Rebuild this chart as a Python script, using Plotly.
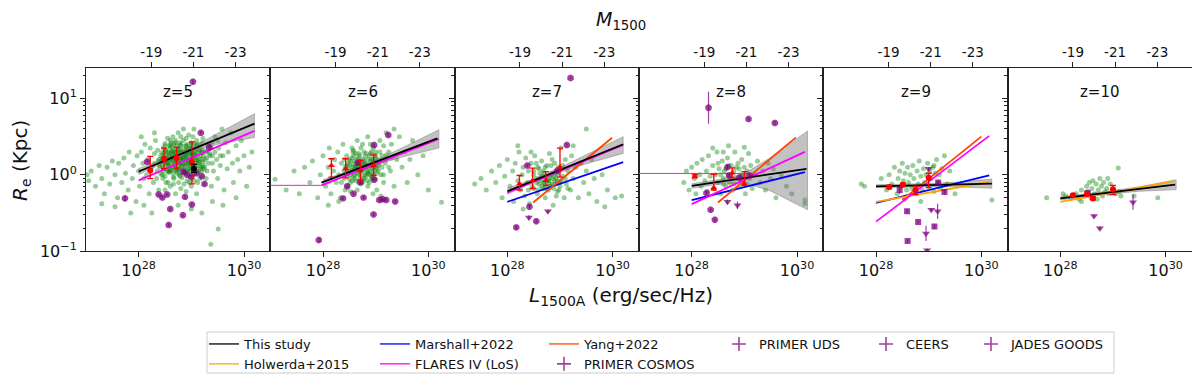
import numpy as np
import plotly.graph_objects as go

REDSHIFTS = [5, 6, 7, 8, 9, 10]
X_TICK_LOGL = [28, 30]
M_TICKS = [-19, -21, -23]

# fitted relations: (z, logL start, logR start, logL end, logR end)
STUDY = [(5, 28.0, 0.043, 30.2, 0.67), (6, 27.97, -0.104, 30.17, 0.476), (7, 28.0, -0.216, 30.2, 0.40),
         (8, 28.0, -0.147, 30.18, 0.078), (9, 28.0, -0.152, 30.2, -0.117), (10, 28.0, -0.31, 30.18, -0.13)]
FLARES = [(5, 28.0, -0.074, 30.2, 0.575), (6, 27.97, -0.139, 30.2, 0.47), (7, 28.0, -0.234, 30.2, 0.39),
          (8, 28.0, -0.385, 30.15, 0.30), (9, 28.0, -0.615, 30.15, 0.51)]
FLARES_FLAT = [(6, 27.0, -0.139, 27.97, -0.139), (8, 27.0, 0.017, 29.1, 0.017)]
MARSHALL = [(7, 28.0, -0.355, 30.2, 0.165), (8, 28.0, -0.333, 30.15, 0.035), (9, 28.0, -0.368, 30.15, -0.009)]
YANG = [(7, 28.49, -0.364, 29.99, 0.485), (8, 28.5, -0.364, 29.98, 0.49), (9, 28.5, -0.33, 30.0, 0.50)]
HOLWERDA = [(9, 28.0, -0.355, 30.15, -0.095), (10, 28.0, -0.355, 30.15, -0.087)]

# confidence band of this study (log R), one list per redshift
BAND_L = [28.0, 28.5, 29.0, 29.5, 30.2]
BAND_HI = [[0.083, 0.206, 0.358, 0.54, 0.80],
           [-0.064, 0.048, 0.19, 0.352, 0.59],
           [-0.176, -0.056, 0.094, 0.264, 0.50],
           [-0.117, -0.066, 0.015, 0.226, 0.575],
           [-0.132, -0.124, -0.116, -0.098, -0.057],
           [-0.29, -0.249, -0.208, -0.157, -0.065]]
BAND_LO = [[0.003, 0.166, 0.298, 0.40, 0.49],
           [-0.144, 0.008, 0.13, 0.232, 0.35],
           [-0.256, -0.096, 0.034, 0.144, 0.28],
           [-0.177, -0.126, -0.105, -0.214, -0.46],
           [-0.172, -0.164, -0.156, -0.158, -0.177],
           [-0.33, -0.289, -0.248, -0.217, -0.195]]

# binned medians: (z, logL, logR, logR low, logR high)
BINS = [(5, 28.22, 0.056, -0.05, 0.24), (5, 28.48, 0.21, 0.08, 0.35), (5, 28.72, 0.22, 0.087, 0.36), (5, 29.01, 0.165, -0.12, 0.43),
        (6, 28.16, 0.12, -0.03, 0.21), (6, 28.43, 0.078, -0.04, 0.21), (6, 28.71, 0.056, -0.07, 0.19), (6, 28.96, 0.12, -0.01, 0.26),
        (7, 28.23, -0.117, -0.2, -0.01), (7, 28.48, -0.074, -0.18, 0.087), (7, 28.73, -0.074, -0.14, 0.04), (7, 29.0, 0.1, -0.03, 0.35),
        (8, 28.06, -0.02, -0.04, 0.0), (8, 28.42, -0.17, -0.2, 0.004), (8, 28.77, 0.022, -0.04, 0.09), (8, 29.0, -0.117, -0.14, 0.04),
        (9, 28.25, -0.16, -0.18, -0.14), (9, 28.51, -0.13, -0.15, -0.11), (9, 28.75, -0.20, -0.26, -0.15), (9, 29.0, -0.04, -0.17, 0.02),
        (10, 28.24, -0.27, -0.29, -0.25), (10, 28.51, -0.25, -0.28, -0.22), (10, 28.62, -0.31, -0.33, -0.29), (10, 29.0, -0.19, -0.26, -0.14)]
EXTRA_POINT = [(5, 29.05, 0.078, 0.03, 0.135)]

# observed galaxies: (z, logL, logR, error in dex)
PRIMER_COSMOS = [(5, 29.03, 1.22, 0.03), (5, 27.74, -0.31, 0.04), (5, 28.38, -0.26, 0.02), (5, 28.45, -0.30, 0.02),
                 (5, 28.54, -0.26, 0.02), (5, 28.6, -0.45, 0.02), (5, 28.57, -0.66, 0.02), (5, 28.84, -0.53, 0.02),
                 (5, 28.88, -0.29, 0.02), (5, 29.01, -0.39, 0.02), (5, 29.25, -0.12, 0.02), (5, 29.18, 0.55, 0.02),
                 (5, 29.34, 0.36, 0.02), (5, 28.16, 0.17, 0.02), (5, 28.85, 0.04, 0.02), (5, 28.92, 0.0, 0.02),
                 (5, 29.0, -0.03, 0.02), (5, 29.1, 0.02, 0.02), (5, 29.2, -0.02, 0.02),
                 (6, 27.92, -0.857, 0.03), (6, 28.96, -0.52, 0.02), (6, 28.38, -0.31, 0.02), (6, 28.58, -0.25, 0.02),
                 (6, 28.77, -0.30, 0.02), (6, 29.07, -0.33, 0.02), (6, 29.13, -0.32, 0.02), (6, 29.2, -0.33, 0.02),
                 (6, 29.37, -0.35, 0.02), (6, 28.46, -0.15, 0.02), (6, 28.71, -0.10, 0.02), (6, 28.66, 0.156, 0.02),
                 (6, 28.97, 0.39, 0.02), (6, 29.24, 0.52, 0.02), (6, 28.97, -0.065, 0.02)]
PRIMER_UDS = [(7, 29.2, 1.27, 0.01), (7, 28.38, 0.12, 0.02), (7, 28.95, 0.056, 0.02), (7, 29.13, 0.39, 0.02),
              (7, 28.42, -0.42, 0.02), (7, 28.55, -0.61, 0.02), (7, 28.17, -0.69, 0.03),
              (8, 29.08, 0.73, 0.02), (8, 29.58, 0.68, 0.02), (8, 28.68, 0.10, 0.03), (8, 28.28, -0.24, 0.02),
              (8, 28.36, -0.46, 0.02), (8, 28.44, -0.59, 0.02), (8, 28.71, -0.01, 0.02), (8, 28.91, -0.04, 0.02),
              (8, 29.1, -0.01, 0.02), (8, 28.32, 0.88, 0.21)]
CEERS = [(7, 28.41, -0.56, 0.03), (7, 28.77, -0.48, 0.02), (8, 28.68, -0.355, 0.03), (8, 28.87, -0.40, 0.05),
         (9, 28.95, -0.77, 0.1), (9, 29.0, 0.078, 0.02), (9, 29.05, -0.46, 0.02), (9, 29.17, -0.48, 0.1),
         (9, 28.97, -0.99, 0.02), (10, 28.64, -0.54, 0.02), (10, 28.75, -0.70, 0.02), (10, 29.38, -0.36, 0.1)]
JADES_GOODS = [(9, 28.45, -0.20, 0.05), (9, 28.59, -0.48, 0.03), (9, 28.8, -0.62, 0.02),
               (9, 28.6, -0.87, 0.02), (9, 29.11, -0.68, 0.03), (9, 29.18, -0.10, 0.02), (9, 29.3, -0.225, 0.03),
               (10, 28.52, -0.24, 0.02)]

# simulated galaxies (logL, logR) per redshift
CLOUD_Z5 = [(27.02, 0.0), (27.05, -0.08), (27.1, 0.05), (27.18, -0.15), (27.25, 0.12), (27.3, -0.05), (27.35, -0.25),
            (27.4, 0.1), (27.45, -0.12), (27.5, 0.18), (27.55, 0.0), (27.6, -0.3), (27.62, 0.15), (27.68, -0.1),
            (27.72, 0.22), (27.75, 0.02), (27.8, -0.2), (27.82, 0.3), (27.88, -0.05), (27.9, 0.12), (27.95, -0.35),
            (27.97, 0.25), (27.3, -0.38), (27.55, -0.42), (27.85, -0.5),
            (28.0, 0.05), (28.02, -0.15), (28.05, 0.3), (28.08, 0.15), (28.1, -0.05), (28.12, 0.4), (28.15, 0.0),
            (28.18, 0.2), (28.2, -0.25), (28.22, 0.35), (28.25, 0.1), (28.28, -0.1), (28.3, 0.28), (28.32, 0.45),
            (28.35, 0.05), (28.38, -0.2), (28.1, -0.4), (28.25, -0.5), (28.05, 0.5), (28.3, 0.55),
            (28.4, 0.1), (28.42, 0.25), (28.45, 0.0), (28.47, 0.35), (28.5, 0.15), (28.52, -0.1), (28.55, 0.3),
            (28.57, 0.05), (28.6, 0.2), (28.62, 0.42), (28.65, 0.1), (28.67, -0.05), (28.7, 0.25), (28.72, 0.38),
            (28.75, 0.12), (28.77, 0.0), (28.8, 0.3), (28.82, 0.18), (28.85, 0.45), (28.87, 0.05), (28.9, 0.22),
            (28.92, -0.08), (28.95, 0.35), (28.97, 0.12), (29.0, 0.28), (29.02, 0.0), (29.05, 0.4), (29.07, 0.15),
            (29.1, 0.25), (29.12, -0.1), (29.15, 0.32), (29.17, 0.08), (29.2, 0.2), (29.22, 0.48), (29.25, 0.1),
            (29.28, -0.05), (29.3, 0.3),
            (28.43, 0.18), (28.48, 0.28), (28.53, 0.08), (28.58, 0.38), (28.63, 0.22), (28.68, 0.15), (28.73, 0.05),
            (28.78, 0.42), (28.83, 0.25), (28.88, 0.1), (28.93, 0.3), (28.98, 0.2), (29.03, 0.5), (29.08, 0.05),
            (29.13, 0.18), (29.18, 0.38), (29.23, 0.25), (28.5, -0.2), (28.6, -0.15), (28.7, -0.25), (28.8, -0.18),
            (28.9, -0.22), (29.0, -0.15), (29.1, -0.25), (28.65, 0.5), (28.75, 0.55), (28.85, 0.6), (28.95, 0.52),
            (29.05, 0.6), (28.55, 0.48),
            (28.51, 0.22), (28.56, 0.14), (28.61, 0.3), (28.66, 0.02), (28.71, 0.18), (28.76, 0.28), (28.81, 0.08),
            (28.86, 0.33), (28.91, 0.15), (28.96, 0.05), (29.01, 0.2), (29.06, 0.3), (28.64, 0.36), (28.74, 0.32),
            (28.84, 0.14), (28.94, 0.26), (29.04, 0.1), (28.69, 0.08), (28.79, 0.22), (28.89, 0.38),
            (28.45, 0.12), (28.47, 0.05), (28.49, 0.2), (28.51, 0.32), (28.53, 0.16), (28.55, 0.04), (28.57, 0.25),
            (28.59, 0.12), (28.61, 0.06), (28.63, 0.3), (28.65, 0.18), (28.67, 0.4), (28.69, 0.25), (28.71, 0.1),
            (28.73, 0.2), (28.75, 0.35), (28.77, 0.08), (28.79, 0.15), (28.81, 0.3), (28.83, 0.02), (28.85, 0.22),
            (28.87, 0.16), (28.89, 0.28), (28.91, 0.06), (28.93, 0.4), (28.95, 0.18), (28.97, 0.28), (28.99, 0.1),
            (29.01, 0.35), (29.03, 0.14), (29.05, 0.22), (29.07, 0.32), (29.09, 0.12), (29.11, 0.4), (29.13, 0.28),
            (29.15, 0.15), (29.17, 0.25), (29.19, 0.05), (29.21, 0.32), (29.23, 0.12),
            (28.5, 0.38), (28.6, 0.45), (28.7, 0.45), (28.8, 0.5), (28.9, 0.48), (29.0, 0.42), (29.1, 0.45),
            (29.2, 0.3), (28.46, -0.05), (28.56, -0.1), (28.66, -0.12), (28.76, -0.1), (28.86, -0.12), (28.96, -0.1),
            (29.06, -0.08), (29.16, -0.05), (29.26, 0.2), (29.3, 0.05), (29.35, 0.25), (29.38, 0.35), (28.38, 0.2),
            (28.36, 0.32), (28.34, -0.05), (28.3, 0.15), (28.6, 0.35), (28.7, 0.32), (28.8, 0.38), (28.9, 0.32),
            (28.72, 0.22), (28.82, 0.2), (28.92, 0.22), (29.02, 0.25), (28.62, 0.16), (28.52, 0.26), (28.98, 0.35),
            (28.88, 0.02), (28.78, -0.02), (28.68, 0.3), (28.58, 0.2), (28.64, 0.24),
            (28.42, 0.01), (28.5, -0.02), (28.58, 0.03), (28.66, -0.03), (28.74, 0.02), (28.82, -0.04), (28.9, 0.03),
            (28.98, -0.02), (29.06, 0.01), (29.14, 0.04), (28.4, 0.12), (28.47, 0.08), (28.54, 0.11), (28.61, 0.09),
            (28.68, 0.13), (28.75, 0.07), (28.82, 0.11), (28.89, 0.12), (28.96, 0.08), (29.03, 0.13), (29.1, 0.09),
            (29.17, 0.11), (29.24, 0.07), (28.38, 0.18), (28.45, 0.22), (28.52, 0.19), (28.59, 0.23), (28.66, 0.21),
            (28.73, 0.17), (28.8, 0.22), (28.87, 0.2), (28.94, 0.18), (29.01, 0.23), (29.08, 0.19), (29.15, 0.21),
            (29.22, 0.17), (29.29, 0.22), (28.44, 0.29), (28.51, 0.32), (28.58, 0.28), (28.65, 0.31), (28.72, 0.29),
            (28.79, 0.33), (28.86, 0.28), (28.93, 0.31), (29.0, 0.3), (29.07, 0.27), (29.14, 0.32), (29.21, 0.29),
            (29.28, 0.31), (29.35, 0.28), (28.5, 0.41), (28.6, 0.39), (28.7, 0.42), (28.8, 0.4), (28.9, 0.38),
            (29.0, 0.41), (29.1, 0.39), (29.2, 0.42), (29.3, 0.4), (29.4, 0.43), (28.55, 0.15), (28.65, 0.26),
            (28.75, 0.16), (28.85, 0.27), (28.95, 0.14), (29.05, 0.26), (29.15, 0.16), (28.6, 0.05), (28.7, 0.06),
            (28.8, 0.14), (28.9, 0.25), (29.0, 0.06), (29.1, 0.2), (29.2, 0.1), (29.45, 0.3), (29.5, 0.45),
            (29.55, 0.25), (29.4, 0.15),
            (29.32, 0.15), (29.35, 0.4), (29.38, -0.15), (29.4, 0.25), (29.42, 0.05), (29.45, 0.5), (29.48, 0.2),
            (29.5, -0.05), (29.52, 0.35), (29.55, 0.12), (29.58, 0.6), (29.6, 0.25), (29.62, -0.2), (29.65, 0.42),
            (29.68, 0.08), (29.7, 0.3), (29.75, 0.55), (29.78, 0.15), (29.8, -0.1), (29.85, 0.38), (29.88, 0.2),
            (29.92, 0.05), (29.95, 0.45), (30.0, 0.25), (30.05, -0.15), (30.1, 0.1), (30.15, 0.3), (29.4, -0.35),
            (29.6, -0.4), (29.85, -0.3), (29.51, -0.71), (29.37, -0.91), (29.2, -0.5), (29.0, -0.45), (28.75, -0.4)]
CLOUD_Z6 = [(27.09, -0.06), (27.3, -0.2), (27.45, 0.05), (27.55, -0.25), (27.65, 0.1), (27.75, -0.1), (27.8, 0.18),
            (27.9, -0.3), (27.95, 0.0), (28.0, 0.25), (28.05, -0.15), (28.1, 0.1), (28.12, 0.35), (28.15, -0.25),
            (28.2, 0.05), (28.22, 0.2), (28.25, -0.1), (28.28, 0.3), (28.3, 0.0), (28.33, -0.3), (28.35, 0.15),
            (28.38, 0.4), (28.4, -0.05), (28.42, 0.1), (28.45, 0.25), (28.47, -0.15), (28.5, 0.05), (28.52, 0.18),
            (28.55, -0.08), (28.57, 0.3), (28.6, 0.0), (28.62, 0.12), (28.65, -0.2), (28.67, 0.22), (28.7, 0.05),
            (28.72, 0.35), (28.75, -0.1), (28.77, 0.15), (28.8, 0.0), (28.82, 0.28), (28.85, -0.15), (28.87, 0.1),
            (28.9, 0.4), (28.92, -0.05), (28.95, 0.2), (28.97, 0.05), (29.0, 0.3), (29.02, -0.2), (29.05, 0.12),
            (29.08, 0.45), (29.1, 0.0), (29.12, 0.25), (29.15, -0.1), (29.18, 0.15), (29.2, 0.55), (29.25, 0.3),
            (29.28, 0.05), (29.3, 0.4), (29.35, -0.15), (29.4, 0.2), (29.45, 0.5), (29.5, 0.1), (29.55, 0.3),
            (29.6, -0.1), (29.65, 0.2), (29.7, 0.45), (29.8, 0.0), (29.9, 0.25), (30.0, -0.2), (30.25, -0.36),
            (28.45, 0.0), (28.5, 0.12), (28.55, 0.22), (28.6, 0.08), (28.65, 0.02), (28.7, 0.18), (28.75, 0.08),
            (28.8, 0.15), (28.85, 0.05), (28.9, 0.18), (28.95, -0.05), (29.0, 0.1), (28.58, -0.02), (28.68, 0.12),
            (28.78, -0.05), (28.88, 0.25), (28.98, 0.15), (28.62, 0.28), (28.72, -0.12), (28.82, 0.1), (28.92, 0.12),
            (29.05, 0.2), (28.4, 0.2), (28.52, -0.22), (28.95, -0.25), (29.1, -0.28), (28.3, -0.35), (28.85, 0.5),
            (28.65, 0.45), (29.15, 0.38), (29.35, 0.6), (28.1, -0.4),
            (28.45, 0.08), (28.5, -0.05), (28.55, 0.1), (28.6, 0.18), (28.65, 0.1), (28.7, -0.05), (28.75, 0.2),
            (28.8, 0.08), (28.85, 0.2), (28.9, 0.0), (28.95, 0.1), (29.0, 0.2), (29.05, 0.05), (28.48, 0.15),
            (28.58, 0.25), (28.68, 0.28), (28.78, 0.3), (28.88, -0.1), (28.98, 0.25), (29.08, 0.3), (28.52, 0.0),
            (28.62, -0.08), (28.72, 0.05), (28.82, -0.02), (28.92, 0.3), (29.02, 0.02), (29.12, 0.1), (29.2, 0.2),
            (29.25, 0.1), (28.4, 0.05), (28.35, -0.1), (28.42, -0.2), (28.55, 0.35), (28.75, 0.4), (28.95, 0.35),
            (29.15, 0.0), (28.66, 0.15), (28.76, 0.12), (28.86, 0.02), (28.96, 0.12),
            (28.47, 0.02), (28.54, 0.06), (28.61, 0.1), (28.68, 0.0), (28.75, 0.06), (28.82, 0.12), (28.89, 0.04),
            (28.96, 0.0), (29.03, 0.08), (28.5, 0.2), (28.57, 0.14), (28.64, 0.2), (28.71, 0.14), (28.78, 0.18),
            (28.85, 0.13), (28.92, 0.2), (28.99, 0.17), (29.06, 0.14), (28.52, -0.1), (28.6, -0.05), (28.68, -0.1),
            (28.76, -0.06), (28.84, -0.08), (28.92, -0.02), (29.0, -0.06), (28.45, 0.12), (28.58, 0.32), (28.7, 0.25),
            (28.8, 0.24), (28.9, 0.28), (29.0, 0.25), (29.1, 0.18), (29.2, 0.26), (29.3, 0.22), (28.63, 0.06),
            (28.73, 0.0), (28.83, 0.02), (28.93, 0.08)]
CLOUD_Z7 = [(27.38, -0.12), (27.5, -0.05), (27.6, -0.2), (27.7, 0.05), (27.78, -0.1), (27.85, 0.12), (27.9, -0.3),
            (27.95, -0.02), (28.0, 0.2), (28.05, -0.15), (28.1, 0.05), (28.12, -0.35), (28.15, 0.15), (28.2, -0.08),
            (28.22, 0.3), (28.25, -0.2), (28.28, 0.0), (28.3, 0.1), (28.33, -0.28), (28.35, 0.22), (28.38, -0.1),
            (28.4, 0.05), (28.42, -0.38), (28.45, 0.15), (28.47, -0.15), (28.5, 0.0), (28.52, 0.25), (28.55, -0.1),
            (28.57, -0.25), (28.6, 0.08), (28.62, -0.05), (28.65, 0.18), (28.67, -0.18), (28.7, 0.0), (28.72, -0.3),
            (28.75, 0.12), (28.77, -0.08), (28.8, 0.28), (28.82, -0.15), (28.85, 0.02), (28.87, -0.4), (28.9, 0.15),
            (28.92, -0.05), (28.95, -0.22), (28.97, 0.1), (29.0, -0.1), (29.02, 0.35), (29.05, -0.02), (29.08, -0.3),
            (29.1, 0.2), (29.12, -0.12), (29.15, 0.05), (29.2, -0.2), (29.22, 0.25), (29.25, -0.05), (29.3, 0.1),
            (29.35, -0.3), (29.4, 0.15), (29.45, -0.1), (29.5, 0.05), (29.55, -0.25), (29.6, 0.2), (29.65, -0.05),
            (29.7, -0.35), (29.8, 0.0), (29.9, -0.2), (30.05, -0.3), (30.17, -0.28), (29.5, 0.6), (29.85, -0.42),
            (28.55, -0.05), (28.6, -0.12), (28.65, -0.02), (28.7, -0.1), (28.75, -0.15), (28.8, -0.05), (28.85, -0.12),
            (28.9, -0.08), (28.95, 0.0), (29.0, -0.15), (28.68, 0.05), (28.78, -0.2), (28.88, -0.18), (28.98, 0.05),
            (28.58, 0.1), (28.72, 0.1), (28.83, 0.12), (28.93, -0.28), (29.05, 0.12), (28.5, -0.18), (28.45, 0.3),
            (28.3, -0.45), (28.2, 0.38), (29.25, 0.38),
            (28.6, -0.08), (28.65, -0.15), (28.7, -0.05), (28.75, -0.02), (28.8, -0.12), (28.85, -0.05), (28.9, -0.12),
            (28.95, -0.08), (28.62, 0.02), (28.72, -0.18), (28.82, 0.0), (28.92, 0.02), (29.02, -0.08), (28.68, -0.1),
            (28.78, -0.08), (28.88, -0.02), (28.98, -0.2), (28.58, -0.2), (28.5, 0.05), (29.1, -0.05), (29.15, -0.18),
            (28.4, -0.2), (28.55, 0.15), (28.85, 0.2)]
CLOUD_Z8 = [(27.85, -0.1), (27.9, 0.05), (27.95, -0.2), (28.0, 0.1), (28.05, -0.05), (28.08, -0.25), (28.1, 0.15),
            (28.15, 0.0), (28.18, -0.15), (28.2, 0.2), (28.25, -0.08), (28.28, 0.05), (28.3, -0.22), (28.32, 0.25),
            (28.35, -0.02), (28.4, 0.12), (28.42, -0.18), (28.45, 0.0), (28.48, 0.3), (28.5, -0.1), (28.52, 0.08),
            (28.55, -0.25), (28.58, 0.18), (28.6, -0.05), (28.62, 0.05), (28.65, -0.15), (28.68, 0.22), (28.7, 0.0),
            (28.72, -0.1), (28.75, 0.12), (28.78, -0.2), (28.8, 0.05), (28.82, 0.3), (28.85, -0.05), (28.88, 0.15),
            (28.9, -0.15), (28.92, 0.0), (28.95, 0.2), (28.98, -0.1), (29.0, 0.1), (29.02, -0.25), (29.05, 0.05),
            (29.08, 0.28), (29.1, -0.05), (29.12, 0.12), (29.15, -0.18), (29.2, 0.0), (29.25, 0.18), (29.3, -0.1),
            (29.35, 0.05), (29.4, -0.2), (29.45, 0.15), (29.5, -0.05), (29.55, 0.08), (29.6, -0.3), (29.7, 0.0),
            (29.8, -0.15), (29.9, -0.25), (30.15, -0.38), (30.15, -0.33), (28.4, 0.35), (28.7, 0.38), (29.0, 0.36),
            (28.6, 0.3), (28.55, 0.0), (28.65, 0.08), (28.75, -0.05), (28.85, 0.1), (28.95, -0.02), (28.6, -0.12),
            (28.7, 0.12), (28.8, -0.12), (28.9, 0.08), (29.0, 0.0), (28.5, 0.15), (29.05, -0.12)]
CLOUD_Z9 = [(27.72, -0.12), (27.78, -0.15), (28.1, -0.05), (28.2, -0.2), (28.25, 0.0), (28.3, -0.12), (28.35, 0.1),
            (28.4, -0.25), (28.42, -0.05), (28.45, 0.05), (28.48, -0.15), (28.5, 0.15), (28.52, -0.08), (28.55, 0.02),
            (28.58, -0.2), (28.6, 0.1), (28.62, -0.1), (28.65, 0.0), (28.68, -0.18), (28.7, 0.12), (28.72, -0.05),
            (28.75, -0.25), (28.78, 0.05), (28.8, -0.12), (28.82, 0.18), (28.85, -0.02), (28.88, -0.2), (28.9, 0.08),
            (28.92, -0.1), (28.95, 0.0), (28.98, 0.15), (29.0, -0.15), (29.02, 0.05), (29.05, -0.05), (29.08, 0.1),
            (29.1, -0.22), (29.12, 0.02), (29.15, 0.2), (29.18, -0.1), (29.2, 0.0), (29.22, -0.18), (29.25, 0.08),
            (29.3, 0.25), (29.35, -0.12), (29.4, 0.05), (29.5, -0.25), (30.2, -0.33), (28.55, -0.32), (28.85, -0.35),
            (29.1, 0.12)]
CLOUD_Z10 = [(27.74, -0.3), (28.05, -0.25), (28.1, -0.28), (28.2, -0.3), (28.3, -0.25), (28.35, -0.32), (28.4, -0.2),
             (28.45, -0.28), (28.5, -0.15), (28.52, -0.22), (28.55, -0.1), (28.58, -0.3), (28.6, -0.18), (28.62, -0.08),
             (28.65, -0.25), (28.68, -0.12), (28.7, -0.32), (28.72, -0.2), (28.75, -0.05), (28.78, -0.15), (28.8, -0.28),
             (28.82, -0.1), (28.85, -0.22), (28.88, -0.18), (28.9, -0.05), (28.92, -0.25), (28.95, -0.12), (29.0, -0.2),
             (29.05, -0.25), (29.1, 0.09), (29.12, -0.22), (29.15, -0.28), (29.4, -0.28), (29.85, -0.3), (28.4, -0.35)]
CLOUDS = [CLOUD_Z5, CLOUD_Z6, CLOUD_Z7, CLOUD_Z8, CLOUD_Z9, CLOUD_Z10]

FONT = "DejaVu Sans"
PURPLE = "rgba(128,0,128,0.75)"
# the page body adds an 8 px margin, so the figure is 8 px smaller than the window
W, H = 1192, 373
ML, MR, MT, MB = 78, 8, 60, 130
PW, PH = W - ML - MR, H - MT - MB


def px_x(p):
    # screen pixel -> paper coordinate
    return (p - 8 - ML) / PW


def px_y(p):
    return (H - MB - (p - 8)) / PH


def ax(n):
    return ("x", "y") if n == 1 else (f"x{n}", f"y{n}")


fig = go.Figure()


def add_fit(rows, color, width=1.8):
    for z, l0, r0, l1, r1 in rows:
        xa, ya = ax(REDSHIFTS.index(z) + 1)
        fig.add_trace(go.Scatter(x=10 ** np.array([l0, l1]), y=10 ** np.array([r0, r1]), mode="lines",
                                 line=dict(color=color, width=width), xaxis=xa, yaxis=ya,
                                 showlegend=False, hoverinfo="skip"))


def add_points(rows, symbol, size):
    for i, z in enumerate(REDSHIFTS):
        sel = [r for r in rows if r[0] == z]
        if not sel:
            continue
        xa, ya = ax(i + 1)
        l = np.array([r[1] for r in sel])
        r = np.array([r[2] for r in sel])
        e = np.array([r_[3] for r_ in sel])
        fig.add_trace(go.Scatter(x=10 ** l, y=10 ** r, mode="markers", xaxis=xa, yaxis=ya,
                                 marker=dict(color=PURPLE, symbol=symbol, size=size, line=dict(width=0)),
                                 error_y=dict(type="data", symmetric=False, array=10 ** (r + e) - 10 ** r,
                                              arrayminus=10 ** r - 10 ** (r - e), color=PURPLE,
                                              thickness=1.2, width=0),
                                 showlegend=False, hoverinfo="skip"))


for i, z in enumerate(REDSHIFTS):
    xa, ya = ax(i + 1)
    cl = np.array(CLOUDS[i])
    fig.add_trace(go.Scatter(x=10 ** cl[:, 0], y=10 ** cl[:, 1], mode="markers", xaxis=xa, yaxis=ya,
                             marker=dict(color="rgba(0,128,0,0.4)", size=5, line=dict(width=0)),
                             showlegend=False, hoverinfo="skip"))
    bx = BAND_L + BAND_L[::-1]
    by = BAND_HI[i] + BAND_LO[i][::-1]
    fig.add_trace(go.Scatter(x=10 ** np.array(bx), y=10 ** np.array(by), mode="lines", fill="toself",
                             fillcolor="rgba(120,120,120,0.45)", line=dict(color="rgba(90,90,90,0.6)", width=0.6),
                             xaxis=xa, yaxis=ya, showlegend=False, hoverinfo="skip"))

add_fit(FLARES_FLAT, "#d030d0", 1.0)
add_fit(MARSHALL, "#0000ff")
add_fit(YANG, "#ff4500")
add_fit(HOLWERDA, "#ffa500")
add_fit(FLARES, "#ff00ff")
add_fit(STUDY, "black")

add_points(PRIMER_COSMOS, "octagon", 7)
add_points(PRIMER_UDS, "octagon", 7)
add_points(CEERS, "triangle-down", 7)
add_points(JADES_GOODS, "square", 6)

bin_symbols = ["circle", "triangle-up", "triangle-up", "triangle-up", "circle", "circle"]
for i, z in enumerate(REDSHIFTS):
    xa, ya = ax(i + 1)
    for rows, col in ((BINS, "red"), (EXTRA_POINT, "black")):
        sel = [r for r in rows if r[0] == z]
        if not sel:
            continue
        l = np.array([r[1] for r in sel])
        m = np.array([r[2] for r in sel])
        lo = np.array([r[3] for r in sel])
        hi = np.array([r[4] for r in sel])
        fig.add_trace(go.Scatter(x=10 ** l, y=10 ** m, mode="markers", xaxis=xa, yaxis=ya,
                                 marker=dict(color=col, symbol=bin_symbols[i], size=6),
                                 error_y=dict(type="data", symmetric=False, array=10 ** hi - 10 ** m,
                                              arrayminus=10 ** m - 10 ** lo, color=col, thickness=1.3, width=3),
                                 showlegend=False, hoverinfo="skip"))

# legend entries, one legend per column as in the original
legend_items = [
    ("This study", "line", "black", "legend", 1), ("Holwerda+2015", "line", "#ffa500", "legend", 2),
    ("Marshall+2022", "line", "#0000ff", "legend2", 1), ("FLARES IV (LoS)", "line", "#ff00ff", "legend2", 2),
    ("Yang+2022", "line", "#ff4500", "legend3", 1), ("PRIMER COSMOS", "marker", PURPLE, "legend3", 2),
    ("PRIMER UDS", "marker", PURPLE, "legend4", 1), ("CEERS", "marker", PURPLE, "legend5", 1),
    ("JADES GOODS", "marker", PURPLE, "legend6", 1),
]
for name, kind, col, lg, rank in legend_items:
    if kind == "line":
        fig.add_trace(go.Scatter(x=[None], y=[None], mode="lines", name=name, line=dict(color=col, width=1.3),
                                 legend=lg, legendrank=rank))
    else:
        fig.add_trace(go.Scatter(x=[None], y=[None], mode="markers", name=name, legend=lg, legendrank=rank,
                                 marker=dict(symbol="cross-thin", size=10, line=dict(color=col, width=1.6))))

# invisible traces that attach the top magnitude axes
for i in range(6):
    fig.add_trace(go.Scatter(x=[None], y=[None], xaxis=f"x{7 + i}", yaxis=ax(i + 1)[1],
                             showlegend=False, hoverinfo="skip"))

layout = {}
minor_y = [k * 10.0 ** d for d in (-1, 0) for k in range(2, 10)] + [20]
for i in range(6):
    n = i + 1
    sx = "" if n == 1 else str(n)
    layout[f"xaxis{sx}"] = dict(
        domain=[i / 6, (i + 1) / 6], anchor=f"y{sx}", type="log", range=[27, 30.5], automargin=False,
        tickvals=[10.0 ** v for v in X_TICK_LOGL], ticktext=[f"10<sup>{v}</sup>" for v in X_TICK_LOGL],
        ticks="outside", ticklen=5, tickcolor="#222", showline=True, mirror=True, linecolor="#222", linewidth=1,
        showgrid=False, zeroline=False, tickfont=dict(size=16, family=FONT, color="#111"))
    layout[f"yaxis{sx}"] = dict(
        domain=[0, 1], anchor=f"x{sx}", type="log", range=[-1, 1.4], automargin=False,
        tickvals=[0.1, 1, 10], ticktext=["10<sup>−1</sup>", "10<sup>0</sup>", "10<sup>1</sup>"],
        showticklabels=(n == 1), ticks="outside", ticklen=5, tickcolor="#222",
        minor=dict(tickvals=minor_y, ticks="outside", ticklen=2.5, tickcolor="#222"),
        showline=True, mirror=True, linecolor="#222", linewidth=1, showgrid=False, zeroline=False,
        tickfont=dict(size=16, family=FONT, color="#111"))
    layout[f"xaxis{6 + n}"] = dict(
        overlaying=f"x{sx}", side="top", anchor=f"y{sx}", type="log", range=[27, 30.5], automargin=False,
        tickvals=[10 ** ((51.6 - m) / 2.5) for m in M_TICKS], ticktext=[str(m) for m in M_TICKS],
        ticks="outside", ticklen=5, tickcolor="#222", showline=False, showgrid=False, zeroline=False,
        tickfont=dict(size=13.5, family=FONT, color="#111"))

legend_text_px = [248, 419, 588, 763, 910, 1015]
for k, tx in enumerate(legend_text_px):
    key = "legend" if k == 0 else f"legend{k + 1}"
    layout[key] = dict(x=px_x(tx - 44), y=px_y(329), xanchor="left", yanchor="top", orientation="v",
                       bgcolor="rgba(0,0,0,0)", borderwidth=0, tracegroupgap=0,
                       font=dict(size=13, family=FONT, color="#111"))


def note(text, x, y, size, **kw):
    return dict(text=text, x=x, y=y, xref="paper", yref="paper", xanchor="center", yanchor="middle",
                showarrow=False, font=dict(size=size, family=FONT, color="#111"), **kw)


annotations = []
for i, z in enumerate(REDSHIFTS):
    a = note(f"z={z}", 0.5, px_y(92), 15)
    a["xref"] = f"x{'' if i == 0 else i + 1} domain"
    annotations.append(a)
annotations += [
    note("<i>M</i><sub>1500</sub>", px_x(621), px_y(21), 19),
    note("<i>L</i><sub>1500A</sub> (erg/sec/Hz)", px_x(621), px_y(296), 20),
    note("<i>R</i><sub>e</sub> (Kpc)", px_x(21), px_y(161), 20, textangle=-90),
]

fig.update_layout(
    width=W, height=H, margin=dict(l=ML, r=MR, t=MT, b=MB, autoexpand=False),
    paper_bgcolor="white", plot_bgcolor="white", showlegend=True,
    font=dict(family=FONT, color="#111"), annotations=annotations,
    shapes=[dict(type="rect", xref="paper", yref="paper", x0=px_x(207), x1=px_x(1114), y0=px_y(373), y1=px_y(332),
                 line=dict(color="#cccccc", width=1), fillcolor="white", layer="below")],
    **layout)

fig.write_html("out.html")
